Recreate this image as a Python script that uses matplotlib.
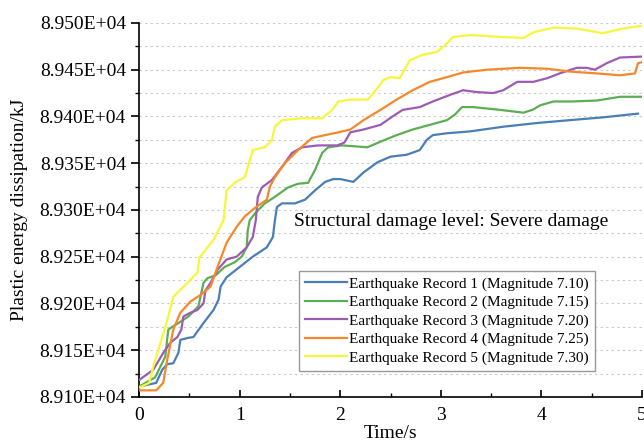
import matplotlib
matplotlib.use('Agg')
import matplotlib.pyplot as plt
from matplotlib.ticker import FuncFormatter, MultipleLocator

plt.rcParams['font.family'] = ['Liberation Serif', 'DejaVu Serif']

### Data

t1 = [0, 0.17, 0.23, 0.28, 0.34, 0.39, 0.41, 0.48, 0.54, 0.64, 0.74, 0.79, 0.81, 0.87, 1.0,
      1.13, 1.27, 1.33, 1.35, 1.37, 1.42, 1.55, 1.65, 1.75, 1.85, 1.93, 2.0, 2.13, 2.23, 2.37,
      2.5, 2.66, 2.79, 2.86, 2.92, 3.06, 3.29, 3.62, 3.96, 4.28, 4.61, 4.96]
e1 = [89111, 89115, 89129, 89135, 89136, 89147, 89161, 89163, 89164, 89179, 89193, 89204, 89218,
      89228, 89239, 89250, 89260, 89271, 89289, 89303, 89307, 89307, 89311, 89321, 89330, 89333,
      89333, 89330, 89340, 89351, 89357, 89359, 89364, 89375, 89380, 89382, 89384, 89389, 89393,
      89396, 89399, 89403]

t2 = [0, 0.16, 0.26, 0.29, 0.39, 0.49, 0.59, 0.64, 0.68, 0.76, 0.85, 0.95, 1.02, 1.07, 1.08,
      1.10, 1.15, 1.25, 1.35, 1.48, 1.58, 1.68, 1.75, 1.82, 1.88, 2.02, 2.27, 2.40, 2.56, 2.72,
      2.89, 3.06, 3.14, 3.21, 3.32, 3.59, 3.82, 3.91, 3.99, 4.12, 4.31, 4.55, 4.78, 5.0]
e2 = [89111, 89121, 89143, 89172, 89179, 89186, 89197, 89222, 89227, 89230, 89239, 89244, 89250,
      89260, 89278, 89289, 89296, 89307, 89314, 89324, 89328, 89329, 89343, 89361, 89367, 89369,
      89367, 89373, 89380, 89386, 89391, 89396, 89402, 89410, 89410, 89407, 89404, 89407, 89412,
      89416, 89416, 89417, 89421, 89421]

t3 = [0, 0.14, 0.24, 0.31, 0.38, 0.42, 0.44, 0.51, 0.58, 0.64, 0.66, 0.71, 0.78, 0.87, 0.97,
      1.07, 1.13, 1.16, 1.18, 1.22, 1.32, 1.42, 1.52, 1.62, 1.78, 1.97, 2.04, 2.1, 2.23, 2.4,
      2.52, 2.62, 2.79, 2.92, 3.09, 3.22, 3.36, 3.52, 3.62, 3.76, 3.92, 4.06, 4.18, 4.35, 4.45,
      4.53, 4.65, 4.78, 5.0]
e3 = [89118, 89129, 89147, 89158, 89164, 89172, 89186, 89190, 89193, 89200, 89214, 89222, 89236,
      89247, 89250, 89260, 89271, 89289, 89314, 89324, 89332, 89346, 89361, 89367, 89369, 89369,
      89372, 89383, 89386, 89391, 89400, 89407, 89410, 89416, 89423, 89428, 89426, 89425, 89428,
      89437, 89437, 89441, 89446, 89452, 89452, 89450, 89457, 89463, 89464]

t4 = [0, 0.17, 0.24, 0.28, 0.34, 0.41, 0.51, 0.61, 0.71, 0.78, 0.87, 0.97, 1.05, 1.15, 1.27,
      1.30, 1.35, 1.45, 1.58, 1.72, 1.85, 1.98, 2.1, 2.23, 2.4, 2.56, 2.72, 2.89, 3.06, 3.22,
      3.46, 3.79, 4.06, 4.28, 4.55, 4.78, 4.93, 4.96, 5.0]
e4 = [89107, 89107, 89115, 89140, 89172, 89190, 89202, 89209, 89218, 89239, 89265, 89282, 89293,
      89302, 89311, 89325, 89335, 89350, 89364, 89377, 89380, 89383, 89386, 89396, 89407, 89418,
      89428, 89437, 89442, 89447, 89450, 89452, 89451, 89448, 89446, 89444, 89446, 89457, 89458]

t5 = [0, 0.1, 0.14, 0.28, 0.34, 0.48, 0.58, 0.6, 0.74, 0.84, 0.87, 0.95, 1.05, 1.10, 1.13,
      1.25, 1.32, 1.35, 1.42, 1.62, 1.82, 1.92, 1.98, 2.1, 2.27, 2.33, 2.43, 2.5, 2.59, 2.64,
      2.69, 2.82, 2.96, 3.04, 3.12, 3.29, 3.46, 3.59, 3.82, 3.92, 4.12, 4.35, 4.61, 4.81, 5.0]
e5 = [89110, 89115, 89132, 89182, 89207, 89222, 89233, 89249, 89268, 89289, 89321, 89329, 89335,
      89353, 89364, 89367, 89375, 89389, 89396, 89398, 89398, 89407, 89416, 89418, 89418, 89425,
      89439, 89442, 89441, 89450, 89460, 89466, 89469, 89476, 89485, 89487, 89486, 89485, 89484,
      89490, 89495, 89494, 89489, 89494, 89497]

labels = ['Earthquake Record 1 (Magnitude 7.10)',
          'Earthquake Record 2 (Magnitude 7.15)',
          'Earthquake Record 3 (Magnitude 7.20)',
          'Earthquake Record 4 (Magnitude 7.25)',
          'Earthquake Record 5 (Magnitude 7.30)']
colors = ['#4a7fb5', '#5cae55', '#9c5cb4', '#f5882a', '#f7f53c']

### Figure

fig = plt.figure(figsize=(6.44, 4.41), dpi=100)
ax = fig.add_axes([0.216, 0.1, 0.781, 0.848])

for t, e, lab, c in zip([t1, t2, t3, t4, t5], [e1, e2, e3, e4, e5], labels, colors):
    ax.plot(t, e, color=c, lw=1.6, label=lab, zorder=3, solid_joinstyle='round')

ax.set_xlim(0, 5)
ax.set_ylim(89100, 89500)

ax.xaxis.set_major_locator(MultipleLocator(1))
ax.xaxis.set_minor_locator(MultipleLocator(0.5))
ax.yaxis.set_major_locator(MultipleLocator(50))
ax.yaxis.set_minor_locator(MultipleLocator(25))
ax.yaxis.set_major_formatter(FuncFormatter(lambda v, p: '%.3fE+04' % (v / 1e4)))

ax.grid(axis='y', which='both', ls=(0, (2, 3)), color='#c8c8c8', lw=0.8, zorder=0)

for s in ['top', 'right']:
    ax.spines[s].set_visible(False)
for s in ['left', 'bottom']:
    ax.spines[s].set_linewidth(1.2)

ax.tick_params(axis='x', which='major', direction='in', length=5, width=1.2, labelsize=14, pad=7)
ax.tick_params(axis='x', which='minor', direction='in', length=3, width=1.0)
ax.tick_params(axis='y', which='major', direction='out', length=6, width=1.2, labelsize=14)
ax.tick_params(axis='y', which='minor', direction='out', length=3, width=1.0)

ax.set_xlabel('Time/s', fontsize=14, labelpad=1)
ax.set_ylabel('Plastic energy dissipation/kJ', fontsize=14, labelpad=8)

ax.text(0.307, 0.47, 'Structural damage level: Severe damage', transform=ax.transAxes,
        fontsize=14, ha='left', va='center')

leg = ax.legend(loc='upper left', bbox_to_anchor=(0.317, 0.337), fontsize=11,
                handlelength=2.8, handletextpad=0.1, borderpad=0.4, labelspacing=0.3,
                borderaxespad=0, fancybox=False, framealpha=1, edgecolor='#999999')
leg.get_frame().set_linewidth(1.0)

fig.savefig('out.png', dpi=100)
plt.close(fig)
